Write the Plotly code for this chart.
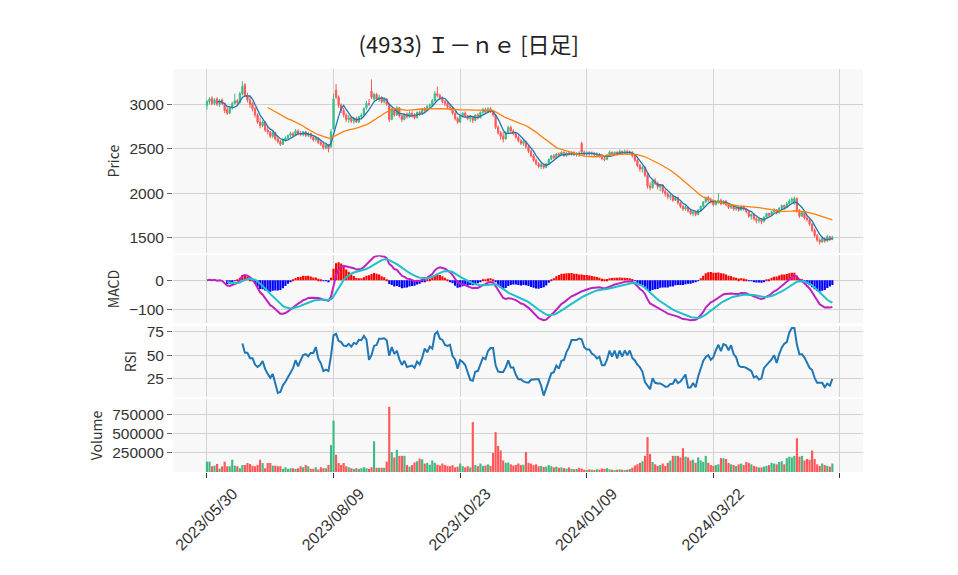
import numpy as np
import pandas as pd
import plotly.graph_objects as go
from plotly.subplots import make_subplots

TITLE = '(4933) Ｉ－ｎｅ [日足]'
TICK_POS = [0, 50, 100, 150, 200, 250]
TICK_LABELS = ['2023/05/30', '2023/08/09', '2023/10/23', '2024/01/09', '2024/03/22', '']

OPEN = [
    2990, 3030, 3070, 3010, 3060, 3000, 3050, 3010, 2940, 2900,
    2960, 3010, 3040, 3020, 3120, 3220, 3100, 3050, 3010, 2950,
    2880, 2800, 2760, 2800, 2710, 2690, 2640, 2680, 2610, 2580,
    2550, 2600, 2620, 2650, 2670, 2650, 2700, 2670, 2660, 2690,
    2650, 2670, 2630, 2600, 2620, 2570, 2550, 2510, 2540, 2520,
    2720, 3160, 3080, 2990, 2930, 2880, 2830, 2850, 2810, 2840,
    2800, 2860, 2880, 2960, 3010, 3150, 3060, 3110, 3060, 3080,
    3030, 3060, 3000, 2830, 2940, 2880, 2960, 2870, 2830, 2890,
    2860, 2900, 2870, 2850, 2910, 2890, 2950, 2930, 2980, 2990,
    3040, 3120, 3100, 3070, 3030, 3010, 2970, 2960, 2900, 2840,
    2800, 2870, 2900, 2870, 2840, 2860, 2820, 2880, 2850, 2910,
    2940, 2910, 2950, 2920, 2880, 2740, 2680, 2640, 2610, 2680,
    2740, 2700, 2670, 2630, 2590, 2560, 2580, 2520, 2470, 2420,
    2370, 2330, 2300, 2320, 2290, 2330, 2380, 2420, 2400, 2440,
    2430, 2460, 2420, 2450, 2440, 2460, 2430, 2450, 2560, 2460,
    2440, 2460, 2440, 2450, 2430, 2440, 2410, 2390, 2380, 2430,
    2460, 2440, 2460, 2440, 2470, 2450, 2470, 2450, 2460, 2420,
    2370, 2310, 2270, 2290, 2200, 2080, 2060, 2140, 2110, 2070,
    2090, 2020, 1990, 1960, 1970, 1920, 1950, 1890, 1850, 1820,
    1840, 1800, 1770, 1790, 1760, 1810, 1850, 1900, 1950, 1920,
    1900, 1870, 1900, 1920, 1880, 1910, 1870, 1840, 1860, 1820,
    1830, 1810, 1850, 1820, 1790, 1740, 1760, 1710, 1690, 1700,
    1680, 1730, 1770, 1750, 1790, 1810, 1780, 1830, 1860, 1840,
    1880, 1910, 1880, 1940, 1800, 1740, 1780, 1720, 1700, 1650,
    1580, 1520, 1470, 1450, 1490, 1460, 1510, 1480,
]
HIGH = [
    3050, 3080, 3090, 3070, 3080, 3060, 3070, 3020, 2980, 2980,
    3030, 3120, 3060, 3140, 3260, 3240, 3130, 3090, 3030, 2970,
    2900, 2850, 2820, 2810, 2750, 2700, 2700, 2690, 2640, 2600,
    2610, 2640, 2660, 2690, 2690, 2720, 2720, 2700, 2700, 2700,
    2690, 2680, 2650, 2640, 2630, 2600, 2580, 2560, 2550, 2720,
    3120, 3230, 3100, 3010, 2960, 2900, 2880, 2870, 2860, 2860,
    2870, 2900, 2970, 3040, 3060, 3280, 3130, 3130, 3110, 3090,
    3080, 3070, 3010, 2960, 2960, 2980, 2970, 2890, 2900, 2910,
    2920, 2920, 2900, 2920, 2930, 2960, 2970, 2990, 3010, 3060,
    3150, 3200, 3120, 3090, 3050, 3030, 3000, 2970, 2920, 2860,
    2880, 2910, 2920, 2880, 2880, 2870, 2890, 2900, 2920, 2960,
    2960, 2970, 2970, 2940, 2890, 2760, 2700, 2690, 2700, 2760,
    2760, 2720, 2690, 2650, 2610, 2600, 2590, 2540, 2490, 2440,
    2390, 2350, 2340, 2330, 2340, 2390, 2430, 2440, 2450, 2460,
    2470, 2470, 2460, 2470, 2470, 2470, 2460, 2470, 2580, 2480,
    2470, 2470, 2470, 2460, 2460, 2450, 2440, 2420, 2440, 2480,
    2470, 2470, 2470, 2490, 2480, 2490, 2490, 2480, 2470, 2430,
    2390, 2330, 2310, 2300, 2220, 2120, 2150, 2170, 2130, 2100,
    2100, 2050, 2010, 1990, 1980, 1960, 1960, 1900, 1870, 1860,
    1850, 1820, 1800, 1800, 1820, 1860, 1910, 1960, 1970, 1950,
    1920, 1910, 2000, 1940, 1920, 1920, 1880, 1870, 1870, 1850,
    1850, 1860, 1860, 1830, 1800, 1770, 1770, 1730, 1720, 1720,
    1740, 1780, 1780, 1800, 1830, 1820, 1840, 1870, 1870, 1900,
    1930, 1950, 1960, 1950, 1820, 1790, 1790, 1750, 1720, 1660,
    1600, 1540, 1490, 1510, 1500, 1530, 1520, 1520,
]
LOW = [
    2940, 3000, 2990, 2990, 2980, 2970, 2990, 2900, 2880, 2890,
    2940, 3000, 2980, 3010, 3100, 3080, 3020, 2960, 2920, 2850,
    2780, 2730, 2740, 2690, 2660, 2620, 2620, 2590, 2560, 2530,
    2540, 2580, 2600, 2630, 2630, 2640, 2650, 2640, 2640, 2630,
    2630, 2610, 2580, 2580, 2550, 2530, 2490, 2490, 2460, 2510,
    2720, 3060, 2960, 2900, 2850, 2800, 2790, 2790, 2780, 2790,
    2790, 2830, 2870, 2940, 2980, 3060, 3040, 3040, 3030, 3010,
    3010, 2980, 2800, 2820, 2860, 2870, 2850, 2800, 2820, 2840,
    2850, 2850, 2830, 2840, 2870, 2880, 2910, 2920, 2950, 2980,
    3030, 3080, 3050, 3010, 2980, 2950, 2930, 2880, 2820, 2780,
    2790, 2850, 2850, 2820, 2800, 2790, 2810, 2830, 2840, 2890,
    2890, 2900, 2900, 2860, 2720, 2660, 2600, 2570, 2600, 2670,
    2680, 2650, 2610, 2570, 2540, 2530, 2500, 2450, 2400, 2350,
    2310, 2280, 2270, 2270, 2280, 2320, 2370, 2380, 2390, 2410,
    2420, 2410, 2410, 2420, 2420, 2420, 2410, 2410, 2450, 2420,
    2420, 2420, 2420, 2410, 2400, 2400, 2370, 2360, 2370, 2420,
    2420, 2420, 2420, 2430, 2430, 2440, 2430, 2430, 2400, 2350,
    2290, 2240, 2230, 2180, 2050, 2030, 2050, 2090, 2040, 2020,
    2000, 1960, 1930, 1920, 1900, 1910, 1870, 1830, 1800, 1800,
    1780, 1750, 1740, 1740, 1750, 1800, 1840, 1890, 1900, 1880,
    1850, 1860, 1880, 1860, 1870, 1850, 1820, 1820, 1800, 1800,
    1790, 1800, 1800, 1770, 1720, 1700, 1690, 1660, 1660, 1650,
    1670, 1720, 1730, 1740, 1770, 1760, 1770, 1820, 1810, 1830,
    1870, 1880, 1870, 1780, 1720, 1730, 1700, 1680, 1630, 1560,
    1500, 1450, 1420, 1440, 1440, 1450, 1460, 1470,
]
CLOSE = [
    3030, 3060, 3010, 3050, 3000, 3040, 3010, 2930, 2900, 2960,
    3010, 3040, 3020, 3120, 3200, 3100, 3050, 3000, 2950, 2880,
    2800, 2760, 2800, 2710, 2690, 2640, 2680, 2610, 2580, 2550,
    2600, 2620, 2650, 2670, 2650, 2700, 2670, 2660, 2690, 2650,
    2670, 2630, 2600, 2620, 2570, 2550, 2510, 2540, 2500, 2690,
    3060, 3080, 2990, 2930, 2880, 2830, 2850, 2810, 2840, 2800,
    2860, 2880, 2950, 3010, 3000, 3080, 3110, 3060, 3080, 3030,
    3060, 3000, 2830, 2940, 2880, 2960, 2870, 2830, 2890, 2860,
    2900, 2870, 2850, 2910, 2890, 2950, 2930, 2980, 2990, 3040,
    3120, 3100, 3070, 3030, 3010, 2970, 2960, 2900, 2840, 2800,
    2870, 2900, 2870, 2840, 2860, 2820, 2880, 2850, 2910, 2940,
    2910, 2950, 2920, 2880, 2740, 2680, 2640, 2610, 2680, 2740,
    2700, 2670, 2630, 2590, 2560, 2580, 2520, 2470, 2420, 2370,
    2330, 2300, 2320, 2290, 2330, 2380, 2420, 2400, 2440, 2430,
    2460, 2420, 2450, 2440, 2460, 2430, 2450, 2430, 2460, 2440,
    2460, 2440, 2450, 2430, 2440, 2410, 2390, 2380, 2430, 2460,
    2440, 2460, 2440, 2470, 2450, 2470, 2450, 2460, 2420, 2370,
    2310, 2270, 2290, 2200, 2080, 2060, 2140, 2110, 2070, 2090,
    2020, 1990, 1960, 1970, 1920, 1950, 1890, 1850, 1820, 1840,
    1800, 1770, 1790, 1760, 1810, 1850, 1900, 1950, 1920, 1900,
    1870, 1900, 1920, 1880, 1910, 1870, 1840, 1860, 1820, 1830,
    1810, 1850, 1820, 1790, 1740, 1760, 1710, 1690, 1700, 1680,
    1730, 1770, 1750, 1790, 1810, 1780, 1830, 1860, 1840, 1880,
    1910, 1930, 1940, 1800, 1740, 1780, 1720, 1700, 1650, 1580,
    1520, 1470, 1450, 1490, 1460, 1510, 1480, 1500,
]
VOLUME = [
    135000, 135000, 75000, 83000, 105000, 45000, 75000, 135000, 75000, 75000,
    160000, 83000, 75000, 49000, 92000, 92000, 117000, 105000, 83000, 75000,
    92000, 160000, 117000, 49000, 117000, 117000, 83000, 83000, 75000, 75000,
    41000, 62000, 41000, 49000, 49000, 41000, 49000, 75000, 62000, 92000,
    75000, 41000, 41000, 62000, 32000, 62000, 49000, 49000, 92000, 350000,
    670000, 225000, 117000, 92000, 117000, 75000, 62000, 49000, 41000, 49000,
    41000, 49000, 62000, 49000, 41000, 62000, 400000, 55000, 55000, 55000,
    55000, 135000, 850000, 260000, 190000, 290000, 210000, 210000, 210000, 90000,
    70000, 90000, 125000, 140000, 175000, 165000, 110000, 120000, 95000, 150000,
    120000, 95000, 85000, 110000, 90000, 80000, 75000, 90000, 60000, 70000,
    110000, 75000, 60000, 75000, 60000, 650000, 90000, 75000, 110000, 80000,
    85000, 100000, 80000, 250000, 520000, 340000, 280000, 150000, 120000, 125000,
    100000, 85000, 90000, 110000, 90000, 95000, 260000, 120000, 110000, 90000,
    100000, 75000, 80000, 65000, 70000, 90000, 75000, 60000, 70000, 55000,
    60000, 50000, 45000, 60000, 40000, 35000, 40000, 55000, 45000, 30000,
    25000, 35000, 30000, 25000, 35000, 30000, 45000, 40000, 50000, 35000,
    30000, 25000, 30000, 35000, 30000, 25000, 30000, 40000, 55000, 85000,
    100000, 120000, 140000, 210000, 455000, 235000, 130000, 100000, 80000, 90000,
    110000, 80000, 120000, 150000, 210000, 210000, 210000, 190000, 310000, 200000,
    190000, 150000, 160000, 120000, 190000, 150000, 130000, 210000, 120000, 90000,
    80000, 90000, 100000, 180000, 180000, 170000, 120000, 100000, 90000, 80000,
    100000, 110000, 90000, 130000, 120000, 100000, 80000, 70000, 60000, 60000,
    70000, 80000, 90000, 120000, 110000, 100000, 130000, 140000, 100000, 180000,
    200000, 190000, 210000, 440000, 200000, 210000, 150000, 170000, 160000, 280000,
    170000, 100000, 80000, 110000, 90000, 80000, 70000, 110000,
]

UP = '#3dbb80'
DOWN = '#ff5858'
GRID = '#d2d2d2'
FONT = 'Noto Sans CJK JP, Noto Sans, sans-serif'
TICK_FONT = 'Liberation Sans, Arial, sans-serif'

df = pd.DataFrame({'open': OPEN, 'high': HIGH, 'low': LOW,
                   'close': CLOSE, 'volume': VOLUME})
x = list(range(len(df)))

# indicators
ma_short = df['close'].rolling(5).mean()
ma_long = df['close'].rolling(25).mean()
ema12 = df['close'].ewm(span=12, adjust=False).mean()
ema26 = df['close'].ewm(span=26, adjust=False).mean()
macd = ema12 - ema26
signal = macd.ewm(span=9, adjust=False).mean()
signal.iloc[:8] = np.nan
hist = macd - signal
delta = df['close'].diff()
gain = delta.clip(lower=0).rolling(14).mean()
loss = (-delta.clip(upper=0)).rolling(14).mean()
rsi = 100 - 100 / (1 + gain / loss)

vol_colors = [UP if c >= o else DOWN for o, c in zip(df['open'], df['close'])]
hist_colors = ['#ff0000' if v >= 0 else '#0000ff' for v in hist.fillna(0)]

fig = make_subplots(rows=4, cols=1, shared_xaxes=True, vertical_spacing=0.006)

fig.add_trace(go.Candlestick(
    x=x, open=df['open'], high=df['high'], low=df['low'], close=df['close'],
    increasing=dict(line=dict(color=UP, width=1), fillcolor=UP),
    decreasing=dict(line=dict(color=DOWN, width=1), fillcolor=DOWN),
    showlegend=False, name='Price'), row=1, col=1)
fig.add_trace(go.Scatter(x=x, y=ma_short, line=dict(color='#1f77b4', width=1.3),
                         showlegend=False, name='MA5'), row=1, col=1)
fig.add_trace(go.Scatter(x=x, y=ma_long, line=dict(color='#ff7f0e', width=1.3),
                         showlegend=False, name='MA25'), row=1, col=1)

fig.add_trace(go.Bar(x=x, y=hist, marker_color=hist_colors, marker_line_width=0,
                     showlegend=False, name='hist'), row=2, col=1)
fig.add_trace(go.Scatter(x=x, y=macd, line=dict(color='#c020c0', width=2),
                         showlegend=False, name='MACD'), row=2, col=1)
fig.add_trace(go.Scatter(x=x, y=signal, line=dict(color='#20c0c8', width=2),
                         showlegend=False, name='Signal'), row=2, col=1)

fig.add_trace(go.Scatter(x=x, y=rsi, line=dict(color='#1f77b4', width=2),
                         showlegend=False, name='RSI'), row=3, col=1)

fig.add_trace(go.Bar(x=x, y=df['volume'], marker_color=vol_colors, marker_line_width=0,
                     showlegend=False, name='Volume'), row=4, col=1)

axis_common = dict(showgrid=True, gridcolor=GRID, gridwidth=1, zeroline=False,
                   showline=False, tickfont=dict(family=TICK_FONT, size=15.5, color='#333'),
                   ticks='outside', ticklen=5, tickcolor='#666')

fig.update_xaxes(range=[-13.4, 259.1], tickvals=TICK_POS, ticktext=TICK_LABELS,
                 showgrid=True, gridcolor=GRID, zeroline=False, showline=False,
                 rangeslider_visible=False, showticklabels=False, ticks='')
fig.update_xaxes(showticklabels=True, ticks='outside', ticklen=5, tickcolor='#333',
                 tickangle=-45, tickfont=dict(family=TICK_FONT, size=16, color='#333'),
                 ticklabelshift=26, row=4, col=1)

fig.update_yaxes(**axis_common)
fig.update_yaxes(title_text='Price', range=[1323, 3398], dtick=500, row=1, col=1)
fig.update_yaxes(title_text='MACD', range=[-147, 87], dtick=100, row=2, col=1)
fig.update_yaxes(title_text='RSI', range=[6, 80.5], dtick=25, row=3, col=1)
fig.update_yaxes(title_text='Volume', range=[0, 951000], tickformat='d',
                 tickvals=[250000, 500000, 750000], row=4, col=1)
fig.update_yaxes(title_font=dict(size=14, color='#333'), title_standoff=6)

fig.update_layout(
    title=dict(text=TITLE, x=0.481, xanchor='center', y=0.9357, yanchor='middle',
               font=dict(size=22, color='#222')),
    font=dict(family=FONT, color='#333'),
    width=958, height=575,
    margin=dict(l=165, r=103, t=61, b=111),
    plot_bgcolor='#f8f8f8', paper_bgcolor='white',
    bargap=0.15,
    yaxis=dict(domain=[0.543, 1.0]),
    yaxis2=dict(domain=[0.370, 0.538]),
    yaxis3=dict(domain=[0.186, 0.362]),
    yaxis4=dict(domain=[0.0, 0.181]),
)

fig.write_html('out.html')
